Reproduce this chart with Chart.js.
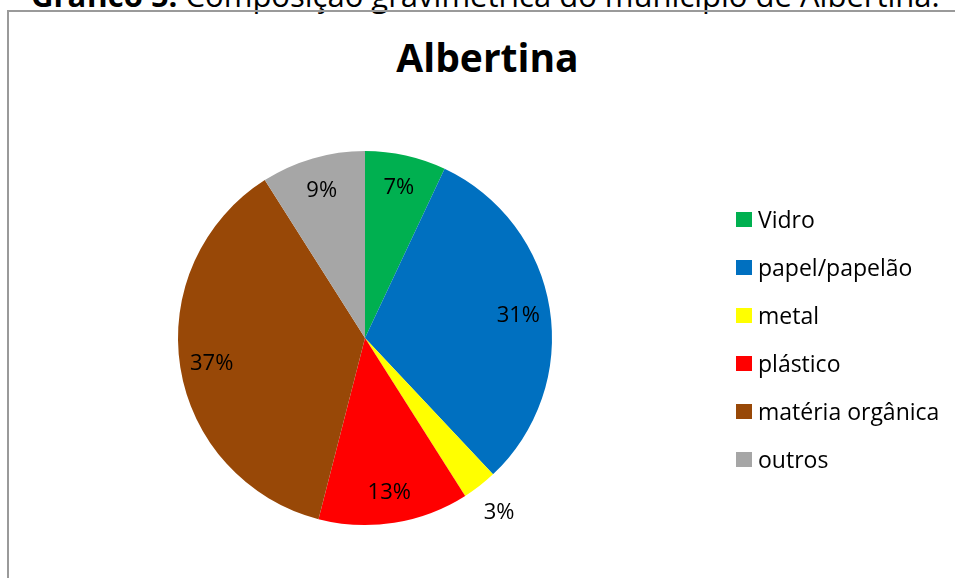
<!DOCTYPE html>
<html>
<head>
<meta charset="utf-8">
<script src="https://cdn.jsdelivr.net/npm/chart.js@4"></script>
<style>
  body { margin: 0; background: #fff; width: 955px; height: 578px; overflow: hidden; position: relative; font-family: "Open Sans", sans-serif; }
  #caption { position: absolute; left: 31px; top: -26px; font-size: 31px; white-space: nowrap; color: #000; }
  #frame { position: absolute; left: 7px; top: 10px; width: 1000px; height: 600px; border-left: 2px solid #9a9a9a; border-top: 2px solid #9a9a9a; }
  #title { position: absolute; left: 0; width: 975px; top: 30px; text-align: center; font-weight: bold; font-size: 39px; color: #000; }
  canvas { position: absolute; left: 0; top: 0; }
</style>
</head>
<body>
<div id="caption"><b>Gráfico 5:</b> Composição gravimétrica do município de Albertina.</div>
<div id="frame"></div>
<div id="title">Albertina</div>
<canvas id="chart" width="955" height="578"></canvas>
<script>
const categories = ["Vidro", "papel/papelão", "metal", "plástico", "matéria orgânica", "outros"];
const values = [7, 31, 3, 13, 37, 9];
const colors = ["#00B050", "#0070C0", "#FFFF00", "#FF0000", "#984807", "#A6A6A6"];

// percentage labels, small slices go outside
const sliceLabels = {
    id: "sliceLabels",
    afterDatasetsDraw(chart) {
        const ctx = chart.ctx;
        const total = values.reduce((a, b) => a + b, 0);
        const size = 22;
        ctx.save();
        ctx.font = size + "px 'Open Sans'";
        ctx.fillStyle = "#000";
        ctx.textAlign = "center";
        ctx.textBaseline = "alphabetic";
        chart.getDatasetMeta(0).data.forEach((arc, i) => {
            const p = arc.getProps(["x", "y", "startAngle", "endAngle", "outerRadius"], true);
            const mid = (p.startAngle + p.endAngle) / 2;
            const pct = Math.round(values[i] / total * 100);
            const f = pct < 5 ? 1.17 : 0.83;
            const x = p.x + Math.cos(mid) * p.outerRadius * f;
            const y = p.y + Math.sin(mid) * p.outerRadius * f;
            ctx.fillText(pct + "%", x, y + size * 0.36);
        });
        ctx.restore();
    }
};

// legend on the right
const sideLegend = {
    id: "sideLegend",
    afterDraw(chart) {
        const ctx = chart.ctx;
        const items = chart.options.plugins.legend.labels.generateLabels(chart);
        ctx.save();
        ctx.font = "23px 'Open Sans'";
        ctx.textBaseline = "alphabetic";
        items.forEach((it, i) => {
            const y = 219.5 + i * 48;
            ctx.fillStyle = it.fillStyle;
            ctx.fillRect(736, y - 7.5, 16, 15);
            ctx.fillStyle = "#000";
            ctx.fillText(it.text, 758, y + 8);
        });
        ctx.restore();
    }
};

new Chart(document.getElementById("chart").getContext("2d"), {
    type: "pie",
    data: {
        labels: categories,
        datasets: [{
            data: values,
            backgroundColor: colors,
            borderWidth: 0
        }]
    },
    options: {
        responsive: false,
        animation: false,
        layout: { padding: { left: 178, right: 403, top: 151, bottom: 53 } },
        plugins: {
            legend: { display: false },
            tooltip: { enabled: false }
        }
    },
    plugins: [sliceLabels, sideLegend]
});
</script>
</body>
</html>
